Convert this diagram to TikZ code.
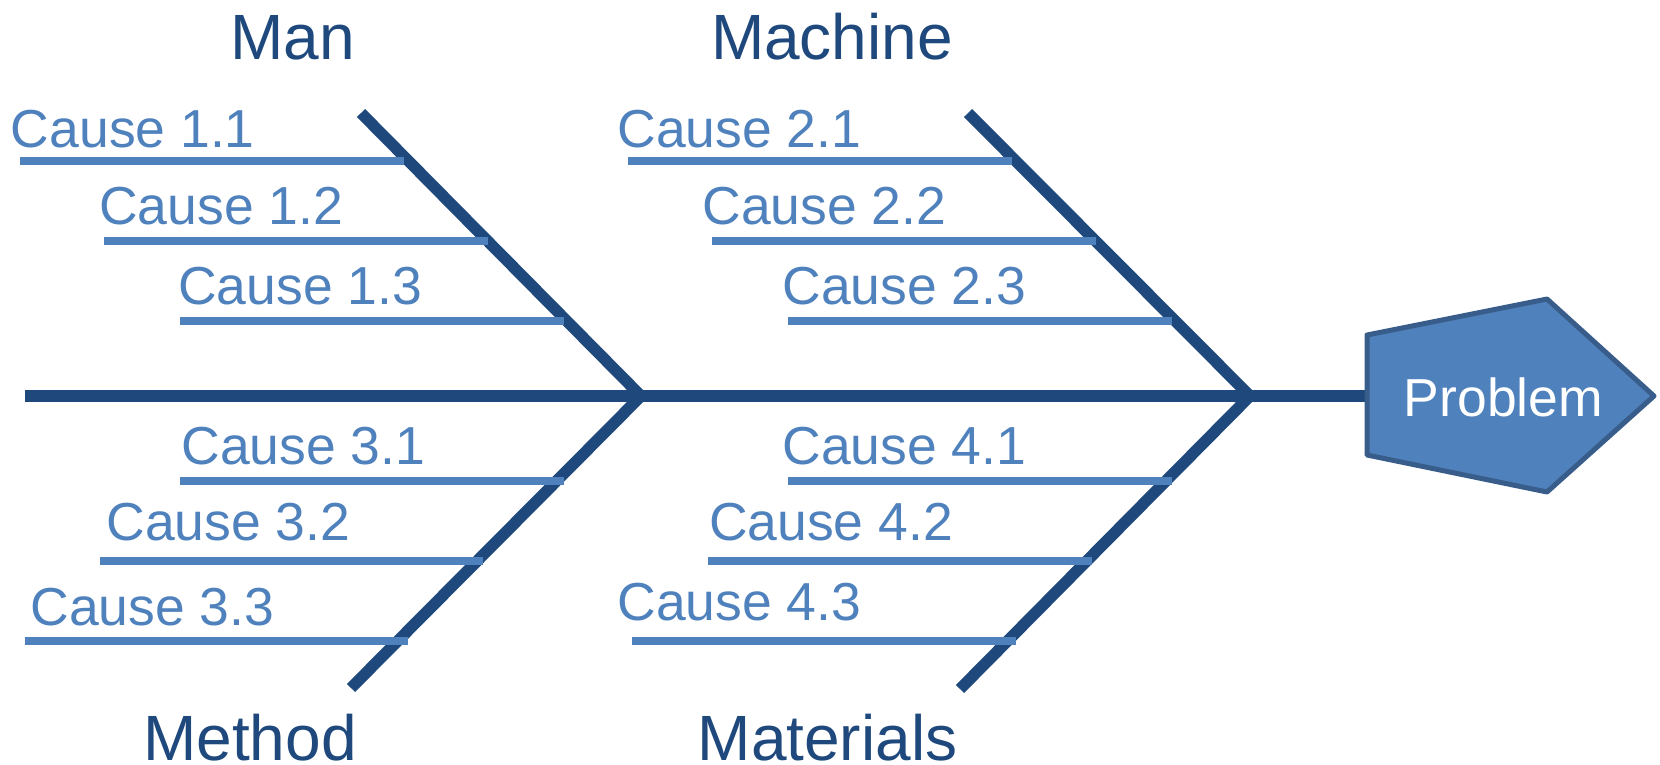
\documentclass[tikz,border=0pt]{standalone}
\usepackage{fontspec}
\setmainfont{Liberation Sans}
\definecolor{spinecol}{HTML}{1F497D}
\definecolor{causecol}{HTML}{4F81BD}
\definecolor{headedge}{HTML}{385D8A}

\begin{document}
\begin{tikzpicture}[x=1pt,y=-1pt,
  spine/.style={draw=spinecol,line width=11.5pt},
  bone/.style={draw=spinecol,line width=11.5pt},
  rib/.style={draw=causecol,line width=7.5pt},
  cause/.style={text=causecol,font=\fontsize{53.5}{62}\selectfont,anchor=base west,inner sep=0pt},
  category/.style={text=spinecol,font=\fontsize{64}{76}\selectfont,anchor=base,inner sep=0pt,text depth=0pt},
  headshape/.style={fill=causecol,draw=headedge,line width=5pt,line join=round},
  headtext/.style={text=white,font=\fontsize{53.5}{62}\selectfont,anchor=base,inner sep=0pt}
]
\useasboundingbox (0,0) rectangle (1660,765);

% spine and junctions
\coordinate (tail) at (24.5,396);
\coordinate (head) at (1368,396);
\coordinate (j1) at (641,396);
\coordinate (j2) at (1250,396);
\draw[spine] (tail) -- (head);

% main bones
\coordinate (manend) at (361,113);
\coordinate (methodend) at (351,688);
\coordinate (machineend) at (968,113);
\coordinate (materialsend) at (960,689);
\draw[bone] (manend) -- (j1);
\draw[bone] (methodend) -- (j1);
\draw[bone] (machineend) -- (j2);
\draw[bone] (materialsend) -- (j2);

% causes: id / label / text x / baseline / rib start / rib end / rib y
\foreach \id/\lbl/\tx/\ty/\xa/\xb/\ly in {
  11/1.1/10.7/147.5/20/404/161,
  12/1.2/99.1/224/104/488/241,
  13/1.3/178.1/304/180/564/321,
  21/2.1/617.3/147.5/628/1012/161,
  22/2.2/702.3/224/712/1096/241,
  23/2.3/782.3/304/788/1172/321,
  31/3.1/181.3/464/180/564/481,
  32/3.2/106.3/540/100/483/561,
  33/3.3/30.3/625/24.5/408/641,
  41/4.1/782.3/464/788/1172/481,
  42/4.2/708.9/540/708/1092/561,
  43/4.3/617.3/620/632/1016/641}
{
  \coordinate (a\id) at (\xa,\ly);
  \coordinate (b\id) at (\xb,\ly);
  \draw[rib] (a\id) -- (b\id);
  \node[cause] (t\id) at (\tx,\ty) {Cause \lbl};
}

% category labels
\node[category] (man) at (292.5,59.5) {Man};
\node[category] (machine) at (832,60) {Machine};
\node[category] (method) at (250,760) {Method};
\node[category] (materials) at (827.5,760) {Materials};

% problem head
\path[headshape] (1367,335) -- (1547,299) -- (1654,396) -- (1547,492) -- (1367,455) -- cycle;
\node[headtext] (problem) at (1503.5,416.7) {Problem};
\end{tikzpicture}
\end{document}
